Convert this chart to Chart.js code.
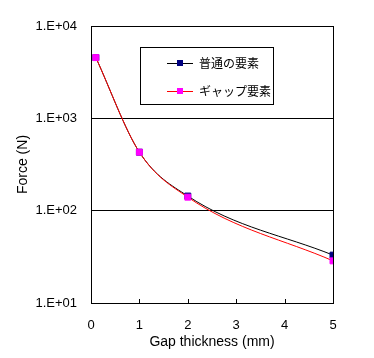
<!DOCTYPE html>
<html>
<head>
<meta charset="utf-8">
<script src="https://cdn.jsdelivr.net/npm/chart.js@4/dist/chart.umd.min.js"></script>
<style>
  html, body { margin: 0; padding: 0; background: #fff; }
  #wrap { width: 374px; height: 358px; }
</style>
</head>
<body>
<div id="wrap"><canvas id="chart"></canvas></div>
<script>
var gapThickness = [0.1, 1, 2, 5];
var normalForce = [4550, 430, 144, 33];
var gapForce = [4550, 430, 140, 28.6];
var seriesNames = ['普通の要素', 'ギャップ要素'];
var yTicks = [10, 100, 1000, 10000];
var xTicks = [0, 1, 2, 3, 4, 5];

function toPoints(xs, ys) {
    var pts = [];
    for (var i = 0; i < xs.length; i++) {
        pts.push({ x: xs[i], y: ys[i] });
    }
    return pts;
}

function expLabel(v) {
    var e = Math.round(Math.log10(v));
    return '1.E+' + (e < 10 ? '0' : '') + e;
}

var frame = {
    id: 'frame',
    afterDraw: function (chart) {
        var ctx = chart.ctx;
        var a = chart.chartArea;
        var xs = chart.scales.x;
        ctx.save();
        ctx.strokeStyle = '#000';
        ctx.lineWidth = 1;
        ctx.strokeRect(Math.round(a.left) + 0.5, Math.round(a.top) + 0.5,
            Math.round(a.right - a.left), Math.round(a.bottom - a.top));
        // inward ticks on the bottom axis
        ctx.beginPath();
        xTicks.forEach(function (t) {
            var px = Math.round(xs.getPixelForValue(t)) + 0.5;
            ctx.moveTo(px, a.bottom);
            ctx.lineTo(px, a.bottom - 4);
        });
        ctx.stroke();

        // legend box inside the plot
        var bx = a.left + 49, by = a.top + 21, bw = 133, bh = 57;
        ctx.fillStyle = '#fff';
        ctx.fillRect(bx, by, bw, bh);
        ctx.strokeRect(Math.round(bx) + 0.5, Math.round(by) + 0.5, bw, bh);
        ctx.font = '12px "Noto Sans CJK JP"';
        ctx.textBaseline = 'middle';
        chart.data.datasets.forEach(function (ds, i) {
            var cy = Math.round(by + 16 + i * 28) + 0.5;
            ctx.strokeStyle = ds.borderColor;
            ctx.beginPath();
            ctx.moveTo(bx + 27, cy);
            ctx.lineTo(bx + 53, cy);
            ctx.stroke();
            ctx.fillStyle = ds.pointBackgroundColor;
            ctx.fillRect(bx + 37, cy - 3.5, 6, 6);
            ctx.fillStyle = '#000';
            ctx.fillText(ds.label, bx + 59, cy);
        });
        ctx.restore();
    }
};

var config = {
    type: 'line',
    data: {
        datasets: [{
            label: seriesNames[0],
            data: toPoints(gapThickness, normalForce),
            borderColor: '#000000',
            pointBackgroundColor: '#000080',
            pointBorderColor: '#000080',
            pointStyle: 'rect',
            pointRadius: 4.2,
            borderWidth: 1,
            cubicInterpolationMode: 'monotone',
            order: 1,
            fill: false
        }, {
            label: seriesNames[1],
            data: toPoints(gapThickness, gapForce),
            borderColor: '#ff0000',
            pointBackgroundColor: '#ff00ff',
            pointBorderColor: '#ff00ff',
            pointStyle: 'rect',
            pointRadius: 4.2,
            borderWidth: 1,
            cubicInterpolationMode: 'monotone',
            order: 0,
            fill: false
        }]
    },
    options: {
        responsive: true,
        maintainAspectRatio: false,
        animation: false,
        layout: { padding: { left: 0, right: 41, top: 26, bottom: 0 } },
        plugins: {
            legend: { display: false },
            tooltip: { enabled: false }
        },
        scales: {
            x: {
                type: 'linear',
                min: 0,
                max: 5,
                afterFit: function (s) { s.height = 55; },
                afterBuildTicks: function (s) {
                    s.ticks = xTicks.map(function (v) { return { value: v }; });
                },
                grid: { display: false, drawTicks: false },
                border: { display: false },
                ticks: {
                    padding: 15,
                    color: '#000',
                    font: { family: '"Liberation Sans"', size: 13 }
                },
                title: {
                    display: true,
                    text: 'Gap thickness (mm)',
                    color: '#000',
                    padding: { top: 0, bottom: 7 },
                    font: { family: '"Liberation Sans"', size: 14 }
                }
            },
            y: {
                type: 'logarithmic',
                min: 10,
                max: 10000,
                afterFit: function (s) { s.width = 91; },
                afterBuildTicks: function (s) {
                    s.ticks = yTicks.map(function (v) { return { value: v }; });
                },
                grid: { color: '#000', lineWidth: 1, drawTicks: false },
                border: { display: false },
                ticks: {
                    padding: 14,
                    color: '#000',
                    font: { family: '"Liberation Sans"', size: 13 },
                    callback: function (v) { return expLabel(v); }
                },
                title: {
                    display: true,
                    text: 'Force (N)',
                    color: '#000',
                    padding: { top: 15, bottom: 0 },
                    font: { family: '"Liberation Sans"', size: 14 }
                }
            }
        }
    },
    plugins: [frame]
};

new Chart(document.getElementById('chart').getContext('2d'), config);
</script>
</body>
</html>
